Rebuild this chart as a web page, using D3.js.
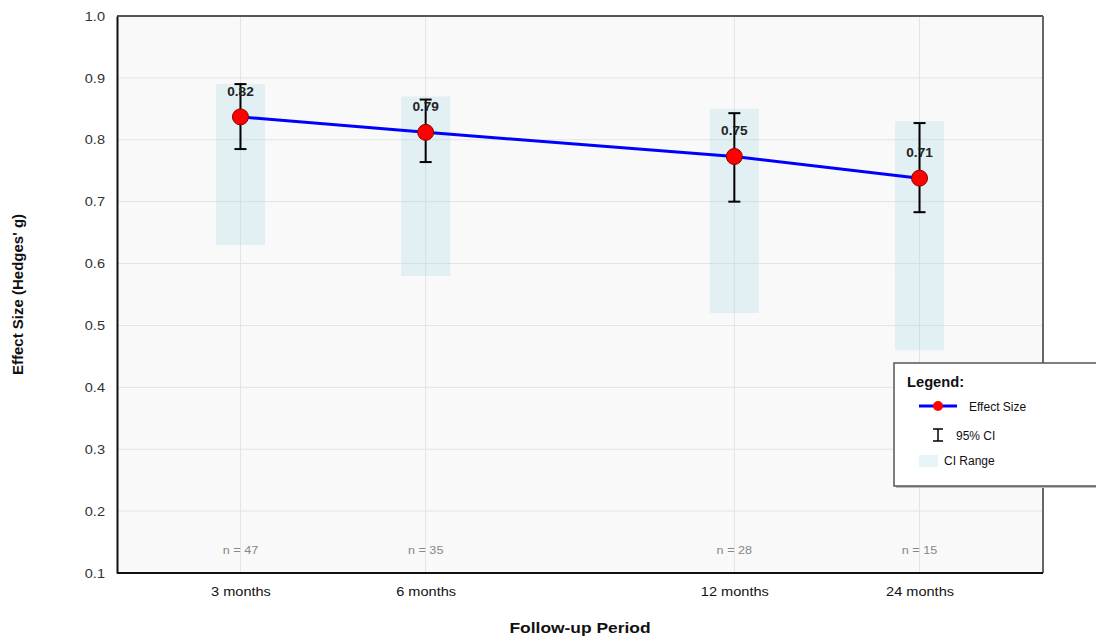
<!DOCTYPE html>
<html>
<head>
<meta charset="utf-8">
<script src="https://cdn.jsdelivr.net/npm/d3@7"></script>
<style>
  body { margin: 0; background: #fff; font-family: "Liberation Sans", Arial, sans-serif; }
</style>
</head>
<body>
<div id="chart"></div>
<script>
// follow-up data
var periods = ["3 months", "6 months", "12 months", "24 months"];
var effectSize = [0.837, 0.812, 0.773, 0.738];
var effectLabels = ["0.82", "0.79", "0.75", "0.71"];
var ciLower = [0.785, 0.764, 0.700, 0.683];
var ciUpper = [0.890, 0.865, 0.843, 0.827];
var rangeLower = [0.63, 0.58, 0.52, 0.46];
var rangeUpper = [0.89, 0.87, 0.85, 0.83];
var sampleSizes = [47, 35, 28, 15];
var yTicks = [0.1, 0.2, 0.3, 0.4, 0.5, 0.6, 0.7, 0.8, 0.9, 1.0];

var svgWidth = 1096, svgHeight = 638;
var margin = { top: 16, right: 53, bottom: 65, left: 117 };
var width = svgWidth - margin.left - margin.right;
var height = svgHeight - margin.top - margin.bottom;

// text in the original is a bit wider than normal Arial
function stretched(sel, x, y, sx) {
  sel.attr("transform", `translate(${x}, ${y}) scale(${sx}, 1)`);
  return sel;
}

var svg = d3.select("#chart").append("svg")
  .attr("width", svgWidth)
  .attr("height", svgHeight);

var chartGroup = svg.append("g")
  .attr("transform", `translate(${margin.left}, ${margin.top})`);

// x positions are not evenly spaced in the original, so a piecewise scale
var xScale = d3.scaleOrdinal()
  .domain(periods)
  .range([2 / 15, 1 / 3, 2 / 3, 13 / 15].map(f => f * width));

var yScale = d3.scaleLinear()
  .domain([0.1, 1.0])
  .range([height, 0]);

var data = periods.map(function(p, i) {
  return {
    period: p, es: effectSize[i], label: effectLabels[i],
    lo: ciLower[i], hi: ciUpper[i],
    rlo: rangeLower[i], rhi: rangeUpper[i], n: sampleSizes[i]
  };
});

// plot background
chartGroup.append("rect")
  .attr("width", width)
  .attr("height", height)
  .attr("fill", "#f9f9f9");

// grid
chartGroup.selectAll(".hgrid")
  .data(yTicks.slice(1, -1))
  .enter()
  .append("line")
  .attr("x1", 0).attr("x2", width)
  .attr("y1", d => yScale(d)).attr("y2", d => yScale(d))
  .attr("stroke", "#e3e3e3")
  .attr("stroke-width", 1);

chartGroup.selectAll(".vgrid")
  .data(periods)
  .enter()
  .append("line")
  .attr("x1", d => xScale(d)).attr("x2", d => xScale(d))
  .attr("y1", 0).attr("y2", height)
  .attr("stroke", "#e3e3e3")
  .attr("stroke-width", 1);

// CI range boxes
chartGroup.selectAll(".ci-range")
  .data(data)
  .enter()
  .append("rect")
  .attr("x", d => xScale(d.period) - 24.5)
  .attr("width", 49)
  .attr("y", d => yScale(d.rhi))
  .attr("height", d => yScale(d.rlo) - yScale(d.rhi))
  .attr("fill", "#add8e6")
  .attr("opacity", 0.3);

// line
var line = d3.line()
  .x(d => xScale(d.period))
  .y(d => yScale(d.es));

chartGroup.append("path")
  .datum(data)
  .attr("d", line)
  .attr("fill", "none")
  .attr("stroke", "#0000ff")
  .attr("stroke-width", 3);

// error bars
var bars = chartGroup.selectAll(".errbar")
  .data(data)
  .enter()
  .append("g");

bars.append("line")
  .attr("x1", d => xScale(d.period)).attr("x2", d => xScale(d.period))
  .attr("y1", d => yScale(d.hi)).attr("y2", d => yScale(d.lo))
  .attr("stroke", "#000").attr("stroke-width", 2);
bars.append("line")
  .attr("x1", d => xScale(d.period) - 6).attr("x2", d => xScale(d.period) + 6)
  .attr("y1", d => yScale(d.hi)).attr("y2", d => yScale(d.hi))
  .attr("stroke", "#000").attr("stroke-width", 2);
bars.append("line")
  .attr("x1", d => xScale(d.period) - 6).attr("x2", d => xScale(d.period) + 6)
  .attr("y1", d => yScale(d.lo)).attr("y2", d => yScale(d.lo))
  .attr("stroke", "#000").attr("stroke-width", 2);

// points
chartGroup.selectAll(".pt")
  .data(data)
  .enter()
  .append("circle")
  .attr("cx", d => xScale(d.period))
  .attr("cy", d => yScale(d.es))
  .attr("r", 8)
  .attr("fill", "#ff0000")
  .attr("stroke", "#8b0000")
  .attr("stroke-width", 1);

// value labels
chartGroup.selectAll(".val")
  .data(data)
  .enter()
  .append("text")
  .each(function(d) {
    stretched(d3.select(this), xScale(d.period), yScale(d.es) - 21, 1.05);
  })
  .attr("text-anchor", "middle")
  .attr("font-size", "13px")
  .attr("font-weight", "bold")
  .attr("fill", "#222")
  .text(d => d.label);

// sample sizes
chartGroup.selectAll(".nlab")
  .data(data)
  .enter()
  .append("text")
  .each(function(d) {
    stretched(d3.select(this), xScale(d.period), height - 19, 1.15);
  })
  .attr("text-anchor", "middle")
  .attr("font-size", "11px")
  .attr("fill", "#888")
  .text(d => "n = " + d.n);

// frame: top/right gray, axes black
chartGroup.append("line")
  .attr("x1", 0).attr("x2", width).attr("y1", 0).attr("y2", 0)
  .attr("stroke", "#555").attr("stroke-width", 2);
chartGroup.append("line")
  .attr("x1", width).attr("x2", width).attr("y1", 0).attr("y2", height)
  .attr("stroke", "#666").attr("stroke-width", 2);

var leftAxis = d3.axisLeft(yScale)
  .tickValues(yTicks)
  .tickFormat(d3.format(".1f"))
  .tickSize(0)
  .tickPadding(12);
var yAxis = chartGroup.append("g").call(leftAxis);
yAxis.select(".domain").attr("stroke", "#111").attr("stroke-width", 2);
yAxis.selectAll("text")
  .attr("font-size", "13px")
  .attr("font-family", "Liberation Sans, Arial, sans-serif")
  .attr("fill", "#333")
  .attr("x", -12 / 1.12)
  .attr("transform", "scale(1.12, 1)");

var bottomAxis = d3.axisBottom(xScale)
  .tickSize(0)
  .tickPadding(14);
var xAxis = chartGroup.append("g")
  .attr("transform", `translate(0, ${height})`)
  .call(bottomAxis);
xAxis.select(".domain").remove();
xAxis.append("line")
  .attr("x1", 0).attr("x2", width)
  .attr("stroke", "#111").attr("stroke-width", 2);
xAxis.selectAll("text")
  .attr("font-size", "13px")
  .attr("font-family", "Liberation Sans, Arial, sans-serif")
  .attr("fill", "#111")
  .attr("transform", "scale(1.12, 1)");

// axis titles
stretched(chartGroup.append("text"), width / 2, height + 60, 1.16)
  .attr("text-anchor", "middle")
  .attr("font-size", "15px")
  .attr("font-weight", "bold")
  .attr("fill", "#111")
  .text("Follow-up Period");

chartGroup.append("text")
  .attr("transform", "rotate(-90)")
  .attr("x", -height / 2)
  .attr("y", -94)
  .attr("text-anchor", "middle")
  .attr("font-size", "15px")
  .attr("font-weight", "bold")
  .attr("fill", "#111")
  .text("Effect Size (Hedges' g)");

// legend
var legend = svg.append("g")
  .attr("transform", "translate(894, 363)");

legend.append("rect")
  .attr("x", 2).attr("y", 2)
  .attr("width", 215).attr("height", 123)
  .attr("fill", "#bbb");
legend.append("rect")
  .attr("width", 215).attr("height", 123)
  .attr("fill", "#fff")
  .attr("stroke", "#555")
  .attr("stroke-width", 1.5);

stretched(legend.append("text"), 13, 24, 1.05)
  .attr("font-size", "14px")
  .attr("font-weight", "bold")
  .attr("fill", "#111")
  .text("Legend:");

legend.append("line")
  .attr("x1", 25).attr("x2", 63).attr("y1", 43).attr("y2", 43)
  .attr("stroke", "#0000ff").attr("stroke-width", 3);
legend.append("circle")
  .attr("cx", 44).attr("cy", 43).attr("r", 5)
  .attr("fill", "#ff0000");
legend.append("text")
  .attr("x", 75).attr("y", 48)
  .attr("font-size", "12px").attr("fill", "#111")
  .text("Effect Size");

legend.append("line")
  .attr("x1", 44).attr("x2", 44).attr("y1", 66).attr("y2", 78)
  .attr("stroke", "#000").attr("stroke-width", 1.5);
legend.append("line")
  .attr("x1", 39).attr("x2", 49).attr("y1", 66).attr("y2", 66)
  .attr("stroke", "#000").attr("stroke-width", 1.5);
legend.append("line")
  .attr("x1", 39).attr("x2", 49).attr("y1", 78).attr("y2", 78)
  .attr("stroke", "#000").attr("stroke-width", 1.5);
legend.append("text")
  .attr("x", 62).attr("y", 77)
  .attr("font-size", "12px").attr("fill", "#111")
  .text("95% CI");

legend.append("rect")
  .attr("x", 25).attr("y", 92)
  .attr("width", 19).attr("height", 12)
  .attr("fill", "#add8e6").attr("opacity", 0.3);
legend.append("text")
  .attr("x", 50).attr("y", 102)
  .attr("font-size", "12px").attr("fill", "#111")
  .text("CI Range");
</script>
</body>
</html>
